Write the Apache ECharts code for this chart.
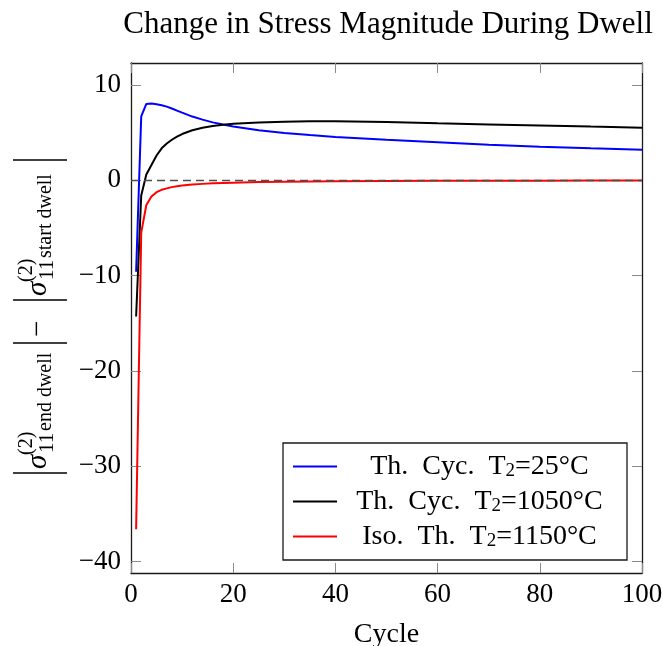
<!DOCTYPE html>
<html>
<head>
<meta charset="utf-8">
<script src="https://cdn.jsdelivr.net/npm/echarts@6/dist/echarts.min.js"></script>
<style>
html,body{margin:0;padding:0;background:#fff;}
#chart{width:663px;height:646px;}
</style>
</head>
<body>
<div id="chart"></div>
<script>
// ---- data ----
const cycles = [1,2,3,4,5,6,7,8,9,10,12,14,16,18,20,25,30,35,40,50,60,70,80,90,100];
const thCyc25 = [-9.6,6.7,8.0,8.05,7.97,7.87,7.72,7.53,7.31,7.09,6.68,6.36,6.07,5.84,5.65,5.25,4.95,4.74,4.55,4.25,3.98,3.72,3.51,3.35,3.2];
const thCyc1050 = [-14.3,-1.6,0.6,1.6,2.6,3.35,3.85,4.25,4.58,4.85,5.25,5.5,5.69,5.82,5.92,6.07,6.15,6.2,6.2,6.12,5.98,5.86,5.75,5.63,5.52];
const iso1150 = [-36.6,-5.5,-2.6,-1.7,-1.25,-1.0,-0.85,-0.72,-0.62,-0.55,-0.45,-0.38,-0.32,-0.28,-0.25,-0.19,-0.15,-0.12,-0.1,-0.08,-0.06,-0.05,-0.04,-0.03,-0.03];
const seriesNames = ['Th. Cyc. T2=25°C', 'Th. Cyc. T2=1050°C', 'Iso. Th. T2=1150°C'];
const seriesColors = ['#0000ff', '#000000', '#ff0000'];
const xTicks = [0, 20, 40, 60, 80, 100];
const yTicks = [-40, -30, -20, -10, 0, 10];
const titleText = 'Change in Stress Magnitude During Dwell';
const xLabel = 'Cycle';

const FONT = '"Liberation Serif", "Times New Roman", serif';
const pairs = vals => cycles.map((c, i) => [c, vals[i]]);
const fmtNum = v => (v < 0 ? '\u2212' + Math.abs(v) : String(v));

const chart = echarts.init(document.getElementById('chart'), null, {renderer: 'canvas'});

function legendFmt(name) {
  const idx = name.indexOf('T2');
  const before = name.slice(0, idx + 1).replace(/\. /g, '.  ');
  const after = name.slice(idx + 2);
  return '{t|' + before + '}{s|2}{t|' + after + '}';
}

const axisLineStyle = {color: '#1a1a1a', width: 1.3};
const tickStyle = {color: '#8a8a8a', width: 1};

function txt(x, y, text, size, italic) {
  return {type: 'text', x: x, y: y, silent: true,
    style: {text: text, fontSize: size, fontFamily: FONT, fontStyle: italic ? 'italic' : 'normal',
      fill: '#000', align: 'left', verticalAlign: 'middle'}};
}
function bar(x) {
  return {type: 'line', x: 0, y: 0, silent: true, shape: {x1: x, y1: -35, x2: x, y2: 19},
    style: {stroke: '#000', lineWidth: 1.3}};
}

const option = {
  backgroundColor: '#fff',
  animation: false,
  title: {
    text: titleText,
    left: 383,
    top: 4,
    textAlign: 'center',
    textStyle: {fontFamily: FONT, fontSize: 31, fontWeight: 'normal', color: '#000'}
  },
  grid: {left: 131, right: 21, top: 63, bottom: 73, containLabel: false, outerBoundsMode: 'none'},
  legend: {
    left: 283, top: 443,
    orient: 'vertical',
    padding: [9, 10, 9, 10],
    itemGap: 6,
    itemWidth: 44,
    itemHeight: 2,
    icon: 'rect',
    backgroundColor: '#fff',
    borderColor: '#1a1a1a',
    borderWidth: 1.3,
    data: seriesNames,
    formatter: legendFmt,
    textStyle: {
      fontFamily: FONT, fontSize: 28, color: '#000', width: 275, lineHeight: 29,
      rich: {
        t: {fontFamily: FONT, fontSize: 28, color: '#000', align: 'center', lineHeight: 29},
        s: {fontFamily: FONT, fontSize: 19, color: '#000', align: 'center', lineHeight: 14, verticalAlign: 'bottom'}
      }
    }
  },
  xAxis: [
    {
      type: 'value', position: 'bottom', min: 0, max: 100, interval: 20,
      name: xLabel, nameLocation: 'middle', nameGap: 48,
      nameTextStyle: {fontFamily: FONT, fontSize: 28, color: '#000'},
      axisLine: {show: true, onZero: false, lineStyle: axisLineStyle},
      axisTick: {show: true, inside: true, length: 10, lineStyle: tickStyle},
      axisLabel: {show: true, margin: 8, fontFamily: FONT, fontSize: 27, color: '#000', formatter: fmtNum,
        customValues: xTicks},
      splitLine: {show: false}
    },
    {
      type: 'value', position: 'top', min: 0, max: 100, interval: 20,
      axisLine: {show: true, onZero: false, lineStyle: axisLineStyle},
      axisTick: {show: true, inside: true, length: 10, lineStyle: tickStyle},
      axisLabel: {show: false},
      splitLine: {show: false}
    }
  ],
  yAxis: [
    {
      type: 'value', position: 'left', min: -41.2, max: 12.3,
      axisLine: {show: true, onZero: false, lineStyle: axisLineStyle},
      axisTick: {show: true, inside: true, length: 10, lineStyle: tickStyle, customValues: yTicks},
      axisLabel: {show: true, margin: 10, fontFamily: FONT, fontSize: 27, color: '#000', formatter: fmtNum,
        customValues: yTicks},
      splitLine: {show: false}
    },
    {
      type: 'value', position: 'right', min: -41.2, max: 12.3,
      axisLine: {show: true, onZero: false, lineStyle: axisLineStyle},
      axisTick: {show: true, inside: true, length: 10, lineStyle: tickStyle, customValues: yTicks},
      axisLabel: {show: false},
      splitLine: {show: false}
    }
  ],
  series: [
    {
      name: seriesNames[0], type: 'line', data: pairs(thCyc25), xAxisIndex: 0, yAxisIndex: 0,
      symbol: 'none', smooth: false, color: seriesColors[0],
      lineStyle: {color: seriesColors[0], width: 2}, z: 3,
      markLine: {
        silent: true, symbol: ['none', 'none'], label: {show: false},
        lineStyle: {color: '#4d4d4d', type: [8, 5], width: 1.4},
        data: [{yAxis: 0}], z: 5
      }
    },
    {
      name: seriesNames[1], type: 'line', data: pairs(thCyc1050), xAxisIndex: 0, yAxisIndex: 0,
      symbol: 'none', smooth: false, color: seriesColors[1],
      lineStyle: {color: seriesColors[1], width: 2}, z: 3
    },
    {
      name: seriesNames[2], type: 'line', data: pairs(iso1150), xAxisIndex: 0, yAxisIndex: 0,
      symbol: 'none', smooth: false, color: seriesColors[2],
      lineStyle: {color: seriesColors[2], width: 2}, z: 3
    }
  ],
  graphic: [
    {
      type: 'group', x: 48, y: 473, rotation: Math.PI / 2,
      children: [
        bar(0),
        txt(4, -9.5, 'σ', 29, true),
        txt(18, -21.5, '(2)', 20, false),
        txt(20, -1, '11', 21, false),
        txt(42, -2, 'end dwell', 20, false),
        bar(130),
        txt(136, -9.5, '\u2212', 29, false),
        bar(173),
        txt(177, -9.5, 'σ', 29, true),
        txt(191, -21.5, '(2)', 20, false),
        txt(193, -1, '11', 21, false),
        txt(215, -2, 'start dwell', 20, false),
        bar(313)
      ]
    }
  ]
};

chart.setOption(option);
</script>
</body>
</html>
